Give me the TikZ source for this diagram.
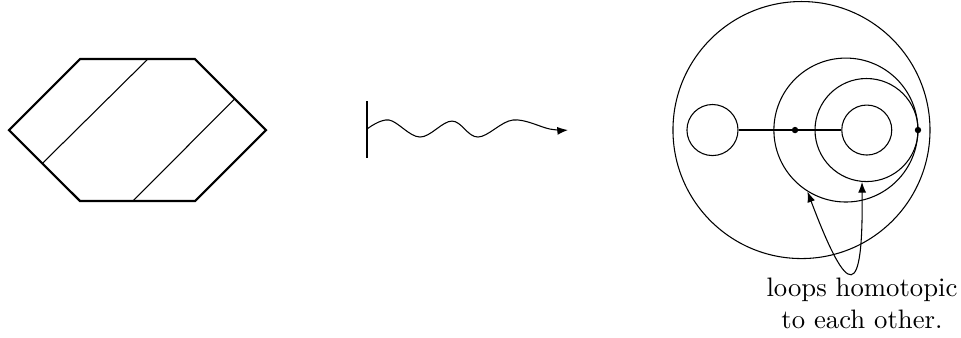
\documentclass[tikz,border=0pt]{standalone}
\usepackage{tikz}
\usetikzlibrary{arrows.meta,positioning,calc}
\tikzset{
  hexEdge/.style={thick, line join=miter},
  chordLine/.style={thin},
  ringCircle/.style={draw, circle, inner sep=0pt},
  basePt/.style={circle, fill, inner sep=0pt, minimum size=2.4pt},
  waveArrow/.style={-{Latex[length=4pt,width=3pt]}},
  loopArrow/.style={{Latex[length=4pt,width=3pt]}-{Latex[length=4pt,width=3pt]}},
  noteLabel/.style={align=center, anchor=north}
}

\begin{document}
\begin{tikzpicture}
  \useasboundingbox (0,-2.724) rectangle (12.645,1.711);
  % hexagon with two parallel chords
  \coordinate (h1) at (0.118,0);
  \coordinate (h2) at (1.053,0.934);
  \coordinate (h3) at (2.566,0.934);
  \coordinate (h4) at (3.5,0);
  \coordinate (h5) at (2.566,-0.934);
  \coordinate (h6) at (1.053,-0.934);
  \draw[hexEdge] (h1) -- (h2) -- (h3) -- (h4) -- (h5) -- (h6) -- cycle;
  \draw[chordLine] ($(h2)!0.59!(h3)$) -- ($(h1)!0.47!(h6)$);
  \draw[chordLine] ($(h3)!0.56!(h4)$) -- ($(h6)!0.46!(h5)$);

  % wall and wave
  \coordinate (wallTop) at (4.829,0.382);
  \coordinate (wallBot) at (4.829,-0.368);
  \draw[thick] (wallTop) -- (wallBot);
  \draw[waveArrow] plot[smooth, tension=0.6] coordinates {(4.829,0.013) (5.118,0.132) (5.526,-0.092) (5.947,0.118) (6.289,-0.092) (6.75,0.132) (7.237,0.013) (7.474,0)};

  % disk with two holes and two loops
  \node[ringCircle, minimum size=3.382cm] (disk) at (10.546,0) {};
  \node[ringCircle, minimum size=0.672cm] (holeL) at (9.375,0) {};
  \node[ringCircle, minimum size=0.658cm] (holeR) at (11.405,0) {};
  \node[ringCircle, minimum size=1.894cm] (loopA) at (11.13,0) {};
  \node[ringCircle, minimum size=1.356cm] (loopB) at (11.402,0) {};
  \draw[thick] (holeL) -- (holeR);
  \node[basePt] (midPt) at (10.461,0) {};
  \node[basePt] (basePt) at (12.079,0) {};
  \draw[loopArrow] (loopA.238) .. controls (11.167,-2.247) and (11.36,-2.247) .. (loopB.265);
  \node[noteLabel] (note) at (11.342,-1.816) {loops homotopic\\to each other.};
\end{tikzpicture}
\end{document}
